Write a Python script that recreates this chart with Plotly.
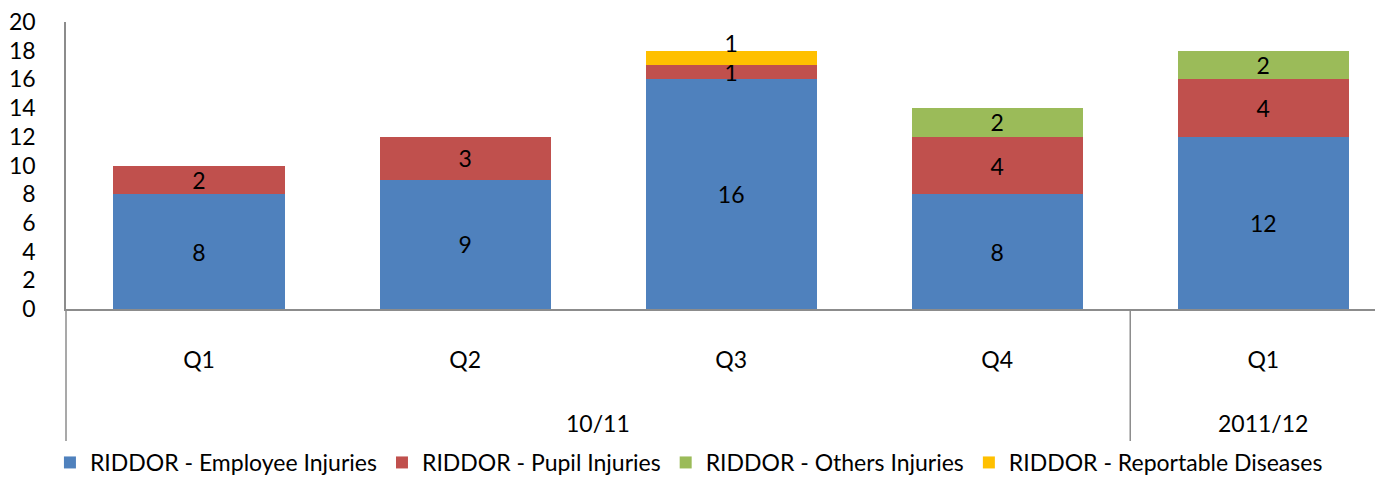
import plotly.graph_objects as go

quarters = ["Q1", "Q2", "Q3", "Q4", "Q1"]
years = ["10/11", "10/11", "10/11", "10/11", "2011/12"]
year_groups = ["10/11", "2011/12"]
year_centers = [1.5, 4]
x_pos = [0, 1, 2, 3, 4]

employee = [8, 9, 16, 8, 12]
pupil = [2, 3, 1, 4, 4]
others = [None, None, None, 2, 2]
diseases = [None, None, 1, None, None]

series = [
    ("RIDDOR - Employee Injuries", employee, "#4F81BD"),
    ("RIDDOR - Pupil Injuries", pupil, "#C0504D"),
    ("RIDDOR - Others Injuries", others, "#9BBB59"),
    ("RIDDOR - Reportable Diseases", diseases, "#FFC000"),
]

FONT = "Lato"
FS = 23
AXC = "#8c8c8c"


def labels(vals, raise_up=False):
    out = []
    for v in vals:
        if v is None:
            out.append("")
        elif raise_up:
            out.append(f"{v}<br>\u00a0")
        else:
            out.append(str(v))
    return out


fig = go.Figure()
for i, (name, vals, col) in enumerate(series):
    fig.add_trace(go.Bar(
        x=x_pos, y=vals, name=name,
        marker=dict(color=col, line=dict(width=0)),
        text=labels(vals, raise_up=(i == 3)),
        textposition="inside", insidetextanchor="middle", textangle=0,
        textfont=dict(family=FONT, size=FS, color="black"),
        cliponaxis=False,
    ))

for g, c in zip(year_groups, year_centers):
    fig.add_annotation(x=c, y=-0.397, xref="x", yref="paper", text=g,
                       showarrow=False, font=dict(family=FONT, size=FS, color="black"),
                       yanchor="middle")

# extended axis lines below plot
fig.add_shape(type="line", xref="paper", yref="paper", x0=0, x1=0, y0=0, y1=-0.526,
              line=dict(color=AXC, width=1.5))
fig.add_shape(type="line", xref="x", yref="paper", x0=3.5, x1=3.5, y0=0, y1=-0.526,
              line=dict(color=AXC, width=1.5))

fig.update_layout(
    barmode="stack", bargap=0.357,
    width=1375, height=476,
    margin=dict(l=58, r=0, t=14, b=175, autoexpand=False),
    plot_bgcolor="white", paper_bgcolor="white",
    font=dict(family=FONT, size=FS, color="black"),
    uniformtext=dict(minsize=FS, mode="show"),
    showlegend=True,
    legend=dict(orientation="h", xref="container", x=0.0305, xanchor="left",
                yref="container", y=0.0, yanchor="bottom",
                font=dict(family=FONT, size=23), traceorder="normal", itemwidth=30),
    xaxis=dict(range=[-0.5, 4.45], tickvals=x_pos, ticktext=quarters,
               showline=True, linecolor=AXC, linewidth=1.5, showgrid=False,
               zeroline=False, ticks="", ticklabelstandoff=30,
               ticklabeloverflow="allow",
               tickfont=dict(family=FONT, size=FS)),
    yaxis=dict(range=[0, 20], dtick=2, showline=True, linecolor=AXC, linewidth=1.5,
               showgrid=False, zeroline=False, ticks="", ticklabelstandoff=24,
               ticklabeloverflow="allow",
               tickfont=dict(family=FONT, size=FS)),
)

fig.write_html("out.html")
